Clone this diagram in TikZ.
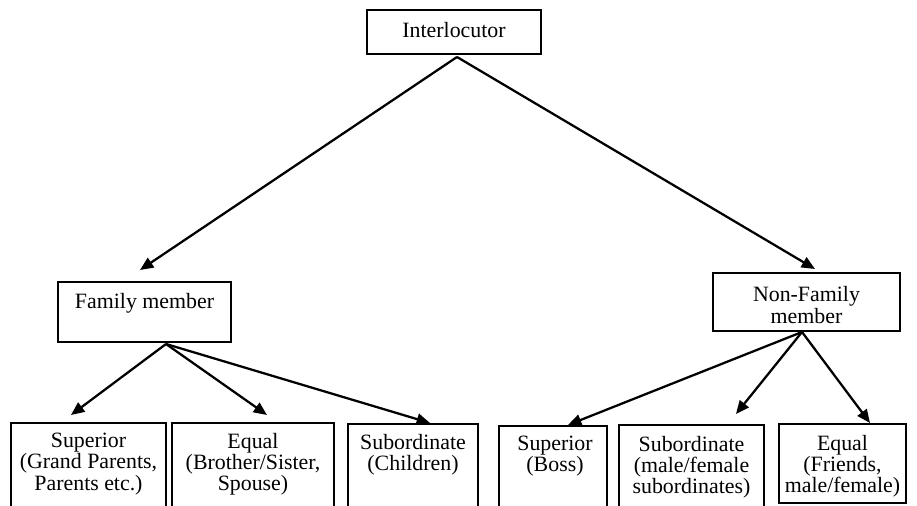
\documentclass[tikz,border=0pt]{standalone}
\usepackage{fontspec}
\setmainfont{Liberation Serif}
\usetikzlibrary{arrows.meta}
\begin{document}
\begin{tikzpicture}[x=0.75pt,y=-0.75pt,
  box/.style={draw, line width=1.3pt, inner sep=0pt, outer sep=0pt},
  txt/.style={align=center, font=\fontsize{16.4}{15.9}\selectfont, inner sep=0pt},
  arr/.style={line width=1.7pt, -{Triangle[length=10pt,width=8.5pt]}}]
\useasboundingbox (0,0) rectangle (917,506);
\clip (0,0) rectangle (917,506);
% boxes
\node[box, minimum width=130.5pt, minimum height=33pt] (inter) at (454,32) {};
\node[box, minimum width=129.75pt, minimum height=45pt] (fam) at (144.5,312) {};
\node[box, minimum width=140.25pt, minimum height=43.5pt] (non) at (806.5,302) {};
\node[box, minimum width=116.25pt, minimum height=69pt] (b1) at (88.5,469) {};
\node[box, minimum width=121.5pt, minimum height=69pt] (b2) at (253,469) {};
\node[box, minimum width=97.5pt, minimum height=68.25pt] (b3) at (413,469.5) {};
\node[box, minimum width=81pt, minimum height=66.75pt] (b4) at (553,470.5) {};
\node[box, minimum width=108.75pt, minimum height=67.5pt] (b5) at (691.5,470) {};
\node[box, minimum width=95.25pt, minimum height=59.25pt] (b6) at (842.5,463.5) {};
% texts
\node[txt] (tinter) at (454,30) {Interlocutor};
\node[txt] (tfam) at (144.5,303) {Family member};
\node[txt] (tnon) at (806.5,305) {Non-Family\\member};
\node[txt] (tb1) at (88.5,464) {Superior\\(Grand Parents,\\Parents etc.)};
\node[txt] (tb2) at (253,464) {Equal\\(Brother/Sister,\\Spouse)};
\node[txt] (tb3) at (413,455) {Subordinate\\(Children)};
\node[txt] (tb4) at (555,456) {Superior\\(Boss)};
\node[txt] (tb5) at (691.5,467) {Subordinate\\(male/female\\subordinates)};
\node[txt] (tb6) at (842.5,466) {Equal\\(Friends,\\male/female)};
% connector ends
\coordinate (io) at (457,57);
\coordinate (fo) at (166,344);
\coordinate (no) at (802,332);
\coordinate (tfamtip) at (140,270);
\coordinate (tnontip) at (815,269);
\coordinate (t1) at (71,415);
\coordinate (t2) at (267,415);
\coordinate (t3) at (430,423);
\coordinate (t4) at (568,425);
\coordinate (t5) at (736,414);
\coordinate (t6) at (870,423);
% connectors
\draw[arr] (io) -- (tfamtip);
\draw[arr] (io) -- (tnontip);
\draw[arr] (fo) -- (t1);
\draw[arr] (fo) -- (t2);
\draw[arr] (fo) -- (t3);
\draw[arr] (no) -- (t4);
\draw[arr] (no) -- (t5);
\draw[arr] (no) -- (t6);
\end{tikzpicture}
\end{document}
